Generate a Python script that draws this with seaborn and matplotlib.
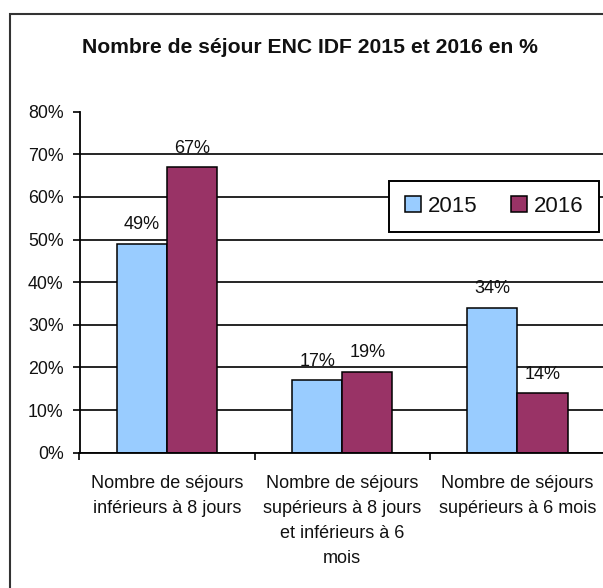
import matplotlib
matplotlib.use("Agg")
import matplotlib.pyplot as plt
import seaborn as sns
import pandas as pd
from matplotlib.patches import Rectangle

# ---- data ----
categories = [
    "Nombre de séjours\ninférieurs à 8 jours",
    "Nombre de séjours\nsupérieurs à 8 jours\net inférieurs à 6\nmois",
    "Nombre de séjours\nsupérieurs à 6 mois",
]
years = ["2015", "2016"]
values_2015 = [49, 17, 34]
values_2016 = [67, 19, 14]
y_ticks = [0, 10, 20, 30, 40, 50, 60, 70, 80]
y_tick_labels = ["0%", "10%", "20%", "30%", "40%", "50%", "60%", "70%", "80%"]
title = "Nombre de séjour ENC IDF 2015 et 2016 en %"

df = pd.DataFrame({
    "cat": categories * 2,
    "year": [years[0]] * 3 + [years[1]] * 3,
    "val": values_2015 + values_2016,
})

sns.set_theme(style="white")
plt.rcParams["font.family"] = ["Liberation Sans", "DejaVu Sans"]

W, H = 603, 588
fig = plt.figure(figsize=(W / 100, H / 100), dpi=100)
fig.patch.set_facecolor("white")

ax_left, ax_right, ax_bottom, ax_top = 79.5, 605, 452.7, 111.7
ax = fig.add_axes([ax_left / W, 1 - ax_bottom / H, (ax_right - ax_left) / W, (ax_bottom - ax_top) / H])

palette = {"2015": "#99CCFF", "2016": "#993366"}
sns.barplot(data=df, x="cat", y="val", hue="year", palette=palette, width=0.572,
            edgecolor="black", linewidth=1.1, saturation=1, ax=ax, legend=True, zorder=3)

ax.set_xlim(-0.5, 2.5)
ax.set_ylim(0, 80)
ax.set_xlabel("")
ax.set_ylabel("")

txt_color = "#111111"
ax.set_yticks(y_ticks)
ax.set_yticklabels(y_tick_labels, fontsize=12.8, color=txt_color)
ax.tick_params(axis="y", length=5, width=1.2, color="black", pad=6.5, left=True)

ax.set_xticks([0, 1, 2])
ax.set_xticklabels(categories, fontsize=13, color=txt_color, linespacing=1.63)
ax.tick_params(axis="x", which="major", length=0, pad=16)
ax.set_xticks([-0.5, 0.5, 1.5, 2.5], minor=True)
ax.tick_params(axis="x", which="minor", length=5, width=1.2, color="black", bottom=True)

for lab in ax.get_xticklabels():
    lab.set_multialignment("center")

# grid
ax.set_axisbelow(True)
ax.yaxis.grid(True, color="black", linewidth=1.2)
ax.xaxis.grid(False)
for gl in ax.get_ygridlines()[-1:]:
    gl.set_visible(False)

for s in ["top", "right"]:
    ax.spines[s].set_visible(False)
for s in ["left", "bottom"]:
    ax.spines[s].set_color("black")
    ax.spines[s].set_linewidth(1.3)
    ax.spines[s].set_zorder(4)

# value labels
for cont in ax.containers:
    ax.bar_label(cont, labels=[f"{v:.0f}%" for v in cont.datavalues], padding=7.5,
                 fontsize=13, color=txt_color)

# legend
leg = ax.legend(loc="center", bbox_to_anchor=((389 + 599) / 2 / W, 1 - 206.5 / H),
                bbox_transform=fig.transFigure, ncol=2, fontsize=16, frameon=True,
                fancybox=False, handlelength=0.72, handleheight=0.72, handletextpad=0.32,
                columnspacing=1.5, borderpad=0.68, borderaxespad=0)
leg.get_frame().set_edgecolor("black")
leg.get_frame().set_linewidth(1.4)
leg.get_frame().set_alpha(1)
for t in leg.get_texts():
    t.set_color(txt_color)
for h in leg.legend_handles:
    h.set_edgecolor("black")
    h.set_linewidth(1.1)

# title
fig.text(310 / W, 1 - 53.3 / H, title, ha="center", va="baseline", fontsize=15.2,
         fontweight="bold", color=txt_color)

# outer chart frame (cut at the right and bottom)
fig.patches.append(Rectangle((10 / W, -0.2), 1.5, (1 - 14.3 / H) + 0.2, transform=fig.transFigure,
                             fill=False, edgecolor="#333333", linewidth=1.5))

fig.savefig("out.png", dpi=100)
